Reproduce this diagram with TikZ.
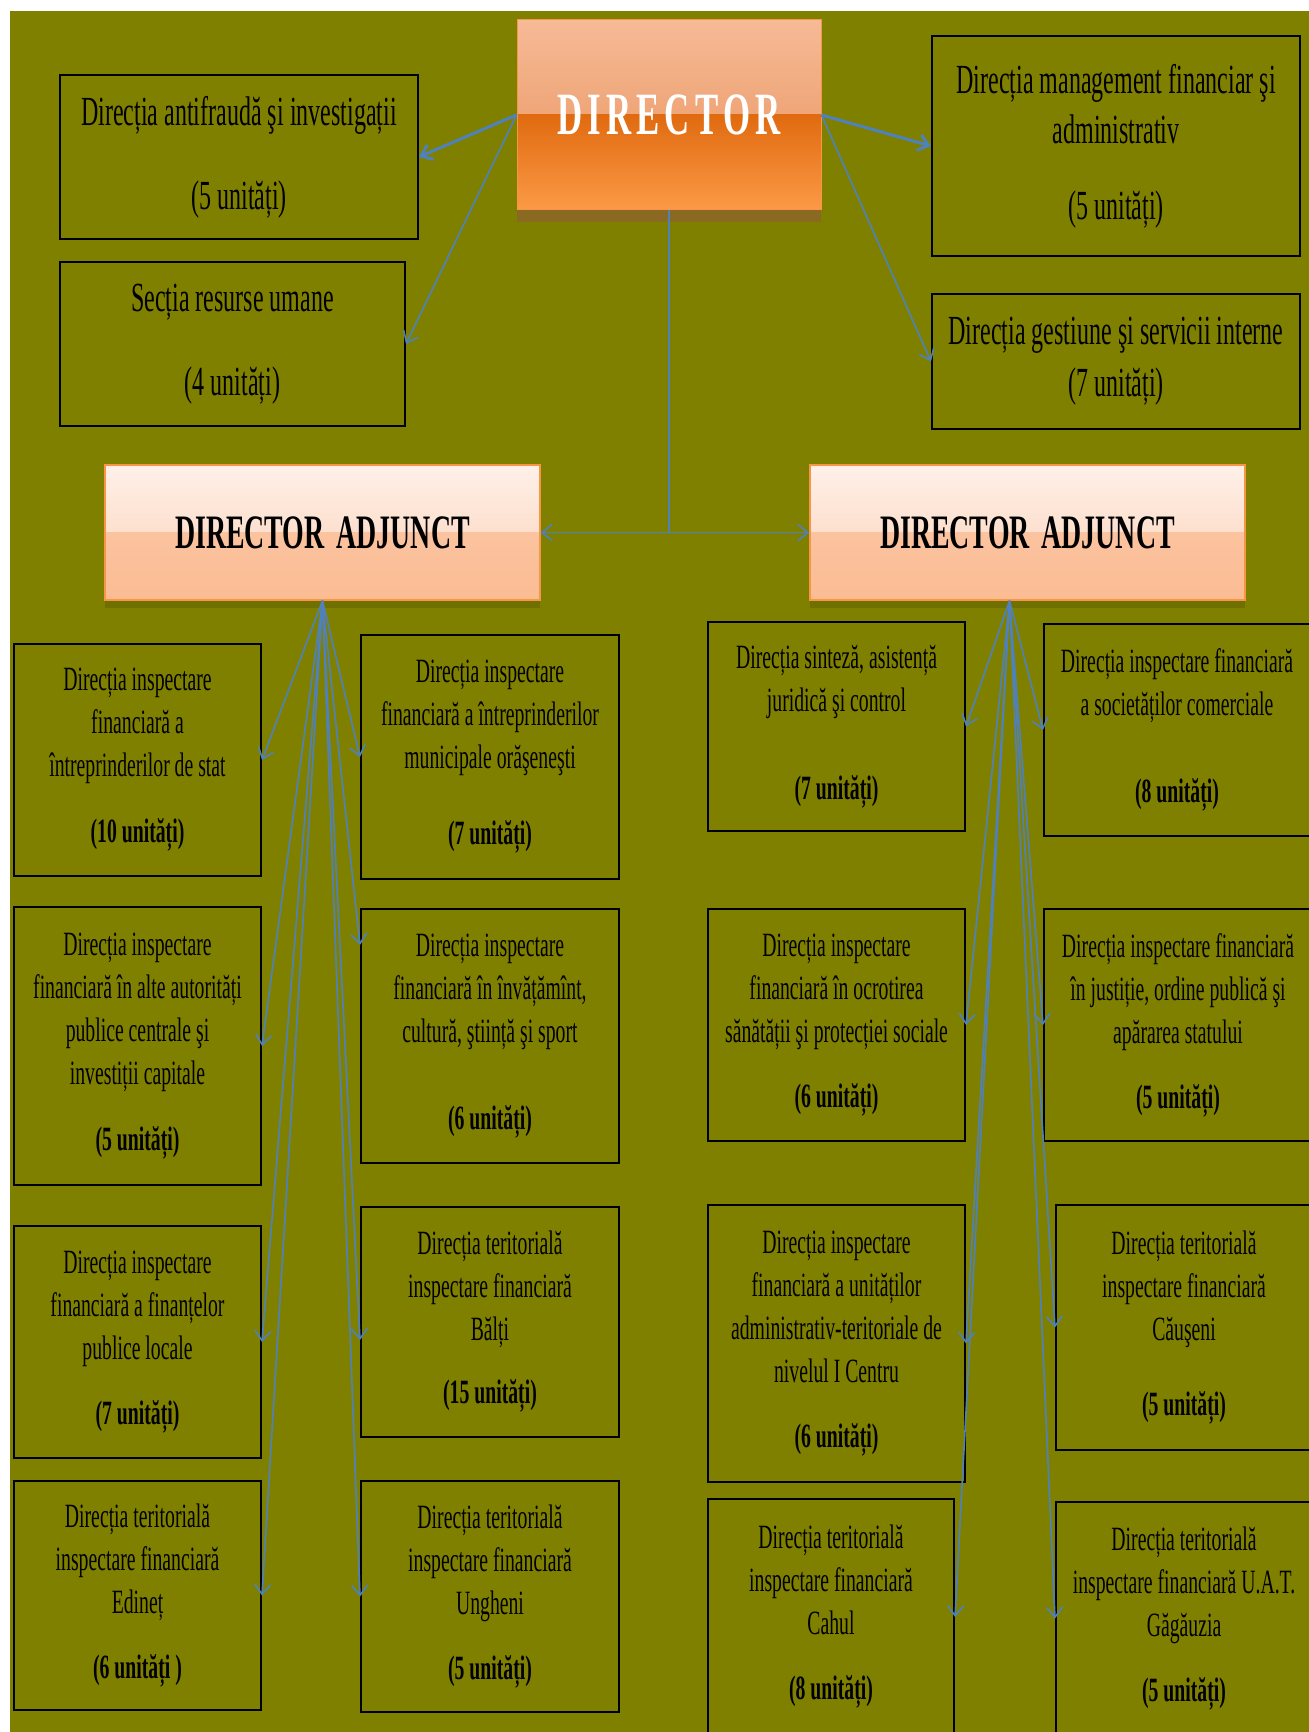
\documentclass[tikz,border=0pt]{standalone}
\usepackage{fontspec}
\setmainfont{Liberation Serif}[FakeStretch=0.58]
\usetikzlibrary{arrows.meta,shadows}

\definecolor{olivebg}{HTML}{808000}
\definecolor{linkblue}{HTML}{4F81BD}
\definecolor{dirtop}{HTML}{F6BA96}
\definecolor{dirmid}{HTML}{E8915A}
\definecolor{dirlow}{HTML}{E06A10}
\definecolor{dirbot}{HTML}{FC9A46}
\definecolor{dirshade}{HTML}{8A6A22}
\definecolor{adjtop}{HTML}{FEF0E9}
\definecolor{adjmid}{HTML}{FCD0B4}
\definecolor{adjlow}{HTML}{FBC39F}
\definecolor{adjbot}{HTML}{FBBC93}
\definecolor{adjedge}{HTML}{F79646}

\tikzset{
  unitbox/.style={draw=black, line width=1pt, fill=olivebg, align=center, inner sep=2pt,
    font=\fontsize{17pt}{21.5pt}\selectfont},
  topbox/.style={unitbox, font=\fontsize{20.7pt}{25pt}\selectfont},
  dirbox/.style={minimum width=152pt, minimum height=95pt, inner sep=0pt, text=white,
    draw=adjedge, line width=0.5pt, font=\fontsize{30pt}{34pt}\selectfont\bfseries,
    drop shadow={shadow xshift=0pt, shadow yshift=-6pt, fill=dirshade, opacity=1},
    path picture={
      \shade[top color=dirtop, bottom color=dirmid] (path picture bounding box.north west) rectangle (path picture bounding box.east);
      \shade[top color=dirlow, bottom color=dirbot] (path picture bounding box.west) rectangle (path picture bounding box.south east);
    }},
  adjbox/.style={minimum width=217.5pt, minimum height=67.5pt, inner sep=0pt,
    draw=adjedge, line width=0.8pt, font=\fontsize{24pt}{28pt}\selectfont\bfseries,
    drop shadow={shadow xshift=0pt, shadow yshift=-4pt, fill=black, opacity=0.12},
    path picture={
      \shade[top color=adjtop, bottom color=adjmid] (path picture bounding box.north west) rectangle (path picture bounding box.east);
      \shade[top color=adjlow, bottom color=adjbot] (path picture bounding box.west) rectangle (path picture bounding box.south east);
    }},
  linkline/.style={draw=linkblue, line width=0.8pt},
  link/.style={linkline, -{Straight Barb[length=5pt,width=8pt]}},
}

\begin{document}
\begin{tikzpicture}[x=0.5pt, y=-0.5pt]
    \useasboundingbox (0,0) rectangle (1309,1732);
    % background
    \fill[olivebg] (10,11) rectangle (1309,1732);

    % director and the units under him
    \node[dirbox] (dir) at (669,115) {D\kern2.6pt I\kern2.6pt R\kern2.6pt E\kern2.6pt C\kern2.6pt T\kern2.6pt O\kern2.6pt R};
    \node[topbox, minimum width=179pt, minimum height=82pt] (anti) at (239,157)
        {Direcția antifraudă şi investigații\\[17pt] (5 unități)};
    \node[topbox, minimum width=172.5pt, minimum height=82pt] (resurse) at (232.5,344)
        {Secția resurse umane\\[17pt] (4 unități)};
    \node[topbox, minimum width=184pt, minimum height=110pt] (mgmt) at (1116,146)
        {Direcția management financiar şi\\ administrativ\\[13pt] (5 unități)};
    \node[topbox, minimum width=184pt, minimum height=67.5pt] (gest) at (1116,361.5)
        {Direcția gestiune şi servicii interne\\[1pt] (7 unități)};

    % the two deputies
    \node[adjbox] (adj1) at (322.5,532.5) {DIRECTOR\kern6pt ADJUNCT};
    \node[adjbox] (adj2) at (1027.5,532.5) {DIRECTOR\kern6pt ADJUNCT};

    % left deputy, first column
    \node[unitbox, minimum width=123.5pt, minimum height=116pt] (l1) at (137.5,760)
        {Direcția inspectare\\ financiară a\\ întreprinderilor de stat\\[11.5pt] \textbf{(10 unități)}};
    \node[unitbox, minimum width=123.5pt, minimum height=139pt] (l2) at (137.5,1046)
        {Direcția inspectare\\ financiară în alte autorități\\ publice centrale şi\\ investiții capitale\\[11.5pt] \textbf{(5 unități)}};
    \node[unitbox, minimum width=123.5pt, minimum height=116pt] (l3) at (137.5,1342)
        {Direcția inspectare\\ financiară a finanțelor\\ publice locale\\[11pt] \textbf{(7 unități)}};
    \node[unitbox, minimum width=123.5pt, minimum height=114.5pt] (l4) at (137.5,1595.5)
        {Direcția teritorială\\ inspectare financiară\\ Edineț\\[11pt] \textbf{(6 unități )}};
    % left deputy, second column
    \node[unitbox, minimum width=129pt, minimum height=122pt] (m1) at (490,757)
        {Direcția inspectare\\ financiară a întreprinderilor\\ municipale orăşeneşti\\[16.5pt] \textbf{(7 unități)}};
    \node[unitbox, minimum width=129pt, minimum height=127pt] (m2) at (490,1036)
        {Direcția inspectare\\ financiară în învățămînt,\\ cultură, ştiință şi sport\\[22pt] \textbf{(6 unități)}};
    \node[unitbox, minimum width=129pt, minimum height=115pt] (m3) at (490,1322)
        {Direcția teritorială\\ inspectare financiară\\ Bălți\\[10pt] \textbf{(15 unități)}};
    \node[unitbox, minimum width=129pt, minimum height=115.5pt] (m4) at (490,1596.5)
        {Direcția teritorială\\ inspectare financiară\\ Ungheni\\[11pt] \textbf{(5 unități)}};

    % right deputy, first column
    \node[unitbox, minimum width=128.5pt, minimum height=104.5pt] (r1) at (836.5,726.5)
        {Direcția sinteză, asistență\\ juridică şi control\\[22.5pt] \textbf{(7 unități)}};
    \node[unitbox, minimum width=128.5pt, minimum height=116pt] (r3) at (836.5,1025)
        {Direcția inspectare\\ financiară în ocrotirea\\ sănătății şi protecției sociale\\[11pt] \textbf{(6 unități)}};
    \node[unitbox, minimum width=128.5pt, minimum height=138.5pt] (r5) at (836.5,1343.5)
        {Direcția inspectare\\ financiară a unităților\\ administrativ-teritoriale de\\ nivelul I Centru\\[11pt] \textbf{(6 unități)}};
    \node[unitbox, minimum width=123pt, minimum height=118pt] (r7) at (831,1617)
        {Direcția teritorială\\ inspectare financiară\\ Cahul\\[11pt] \textbf{(8 unități)}};
    % right deputy, second column
    \node[unitbox, minimum width=133pt, minimum height=106pt] (r2) at (1177,730)
        {Direcția inspectare financiară\\ a societăților comerciale\\[22pt] \textbf{(8 unități)}};
    \node[unitbox, minimum width=134pt, minimum height=116pt] (r4) at (1178,1025)
        {Direcția inspectare financiară\\ în justiție, ordine publică şi\\ apărarea statului\\[11pt] \textbf{(5 unități)}};
    \node[unitbox, minimum width=128pt, minimum height=122.5pt] (r6) at (1184,1327.5)
        {Direcția teritorială\\ inspectare financiară\\ Căuşeni\\[16pt] \textbf{(5 unități)}};
    \node[unitbox, minimum width=128pt, minimum height=116.5pt] (r8) at (1184,1618.5)
        {Direcția teritorială\\ inspectare financiară U.A.T.\\ Găgăuzia\\[11pt] \textbf{(5 unități)}};

    % arrows from the director
    \draw[link, line width=1.5pt] (dir.west) -- (anti.east);
    \draw[link] (dir.west) -- (resurse.east);
    \draw[link, line width=1.5pt] (dir.east) -- (mgmt.west);
    \draw[link] (dir.east) -- (gest.west);
    \draw[linkline] (dir.south) -- (dir.south |- adj1.east) coordinate (split);
    \draw[link] (split) -- (adj1.east);
    \draw[link] (split) -- (adj2.west);

    % fan of the left deputy
    \coordinate (fan1) at (adj1.south);
    \draw[link] (fan1) -- (l1.east);
    \draw[link] (fan1) -- (m1.west);
    \draw[link] (fan1) -- (l2.east);
    \draw[link] (fan1) -- ([yshift=-18.5pt]m2.north west);
    \draw[link] (fan1) -- (l3.east);
    \draw[link] (fan1) -- ([yshift=-9pt]m3.west);
    \draw[link] (fan1) -- (l4.east);
    \draw[link] (fan1) -- (m4.west);

    % fan of the right deputy
    \coordinate (fan2) at ([xshift=-9pt]adj2.south);
    \draw[link] (fan2) -- (r1.east);
    \draw[link] (fan2) -- (r2.west);
    \draw[link] (fan2) -- (r3.east);
    \draw[link] (fan2) -- (r4.west);
    \draw[link] (fan2) -- (r5.east);
    \draw[link] (fan2) -- (r6.west);
    \draw[link] (fan2) -- (r7.east);
    \draw[link] (fan2) -- (r8.west);
\end{tikzpicture}
\end{document}
